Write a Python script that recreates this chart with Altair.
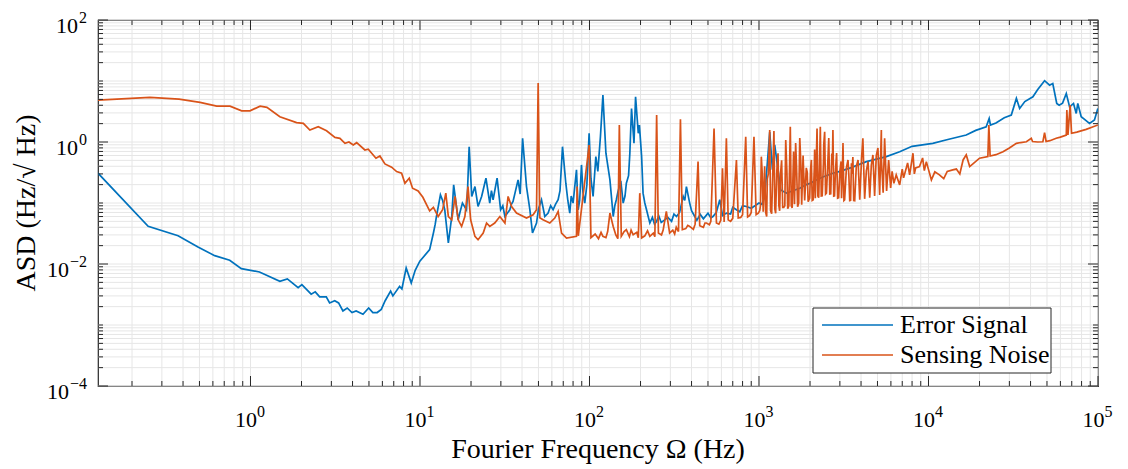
import altair as alt
import pandas as pd

# ---------------- data ----------------
series_names = ["Error Signal", "Sensing Noise"]

err_freq = [0.126, 0.249, 0.374, 0.490, 0.615, 0.754, 0.883, 1.13, 1.49, 1.65,
            1.91, 2.01, 2.28, 2.41, 2.56, 2.80, 2.93, 3.14, 3.31, 3.51,
            3.72, 3.97, 4.20, 4.61, 4.98, 5.27, 5.59, 5.91, 6.23, 6.71,
            6.92, 7.58, 7.82, 8.29, 8.88, 9.37, 9.98, 11.4, 12.0, 12.5,
            13.2, 14.0, 14.7, 15.4, 15.8, 16.8, 17.8, 18.8, 19.5, 20.2,
            21.1, 22.0, 23.1, 24.5, 25.8, 27.0, 28.5, 29.9, 31.7, 33.9,
            35.4, 37.9, 40.3, 42.5, 44.5, 46.1, 48.7, 52.1, 54.5, 57.0,
            61.0, 65.3, 69.3, 72.5, 76.5, 80.0, 83.8, 85.7, 89.7, 93.8,
            99.5, 105, 109, 116, 120, 125, 132, 138, 144, 150,
            158, 165, 173, 177, 183, 187, 194, 203, 207, 217,
            227, 249, 278, 326, 357, 373, 390, 418, 535, 587,
            642, 736, 843, 966, 1081, 1157, 1200, 1238, 1295, 1343,
            1452, 1740, 2180, 2730, 4300, 5640, 6760, 10600, 16700, 21900,
            22800, 23200, 30800, 33000, 34500, 41300, 48400, 51800, 54100, 57100,
            61800, 65000, 68000, 71700, 74400, 76000, 79600, 89100, 95300, 99800]
err_asd = [0.308, 0.0416, 0.0291, 0.0190, 0.0137, 0.0115, 0.0084, 0.0074, 0.0052, 0.0057,
           0.0041, 0.0046, 0.0032, 0.0035, 0.0029, 0.0029, 0.0023, 0.0025, 0.0023, 0.0017,
           0.0019, 0.0016, 0.0017, 0.0015, 0.0019, 0.0016, 0.0016, 0.0018, 0.0025, 0.0036,
           0.0030, 0.0043, 0.0039, 0.0086, 0.0049, 0.0079, 0.0111, 0.0172, 0.0322, 0.060,
           0.136, 0.0774, 0.0221, 0.060, 0.198, 0.0531, 0.0996, 0.0774, 0.838, 0.128,
           0.186, 0.0877, 0.128, 0.255, 0.0996, 0.113, 0.255, 0.0774, 0.060, 0.0774,
           0.106, 0.239, 1.15, 0.186, 0.0774, 0.0322, 0.047, 0.113, 0.060, 0.0684,
           0.0774, 0.113, 0.838, 0.211, 0.0684, 0.0996, 0.349, 0.0774, 0.421, 0.0996,
           1.39, 0.128, 0.575, 1.22, 5.86, 0.654, 0.239, 0.060, 0.113, 0.186,
           0.0996, 0.211, 0.654, 3.55, 0.952, 5.50, 1.39, 0.575, 0.145, 0.0774,
           0.047, 0.050, 0.053, 0.060, 0.128, 0.186, 0.0996, 0.060, 0.060, 0.113,
           0.0684, 0.0774, 0.0877, 0.0935, 0.128, 1.45, 0.35, 0.90, 0.35, 0.164,
           0.145, 0.175, 0.239, 0.308, 0.477, 0.575, 0.694, 0.952, 1.30, 1.78,
           2.44, 1.90, 2.76, 5.18, 3.55, 5.50, 10.1, 8.54, 9.10, 4.29,
           4.34, 6.25, 3.77, 4.29, 2.94, 4.29, 2.59, 2.02, 2.29, 3.55]
err_freq_band = [12.3, 13.6, 17.2, 19.0, 26.4, 30.8, 34.6, 39.0, 50.0, 59.0,
                 63.0, 67.0, 74.5, 78.0, 87.5, 91.5, 96.5, 102, 112, 141,
                 147, 153, 162, 170, 197, 212, 222, 235, 242, 256,
                 265, 290, 305, 315, 340, 365, 400, 430, 450, 470,
                 500, 520, 560, 610, 680, 700, 770, 800, 900, 1000, 1040,
                 1500, 1600, 1900, 2000, 2400, 3000, 3500, 5000, 8000, 13000, 19000,
                 25000, 28000, 37000, 44000, 59000, 84000]
err_asd_band = [0.045, 0.11, 0.07, 0.12, 0.16, 0.09, 0.095, 0.14, 0.08, 0.09,
                0.095, 0.16, 0.11, 0.13, 0.11, 0.15, 0.2, 0.25, 0.33, 0.09,
                0.15, 0.23, 0.13, 0.28, 1.9, 0.1, 0.06, 0.058, 0.045, 0.062,
                0.048, 0.058, 0.05, 0.066, 0.07, 0.11, 0.075, 0.052, 0.065, 0.055,
                0.068, 0.057, 0.07, 0.062, 0.066, 0.085, 0.072, 0.09, 0.082, 0.1, 0.095,
                0.15, 0.16, 0.2, 0.21, 0.27, 0.33, 0.38, 0.53, 0.85, 1.1, 1.55,
                2.05, 2.5, 4.6, 7.2, 4.0, 2.3]

sn_freq = [0.126, 0.255, 0.379, 0.504, 0.632, 0.757, 0.887, 0.993, 1.14, 1.25,
           1.49, 1.87, 2.05, 2.24, 2.51, 2.81, 3.15, 3.37, 3.61, 3.81,
           4.04, 4.23, 4.73, 4.95, 5.50, 5.80, 6.21, 6.80, 7.28, 7.79,
           8.15, 8.64, 9.04, 9.75, 10.4, 11.4, 12.0, 12.8, 13.6, 14.2,
           14.7, 15.4, 16.1, 16.8, 17.6, 18.4, 19.2, 19.9, 21.1, 22.0,
           23.6, 24.7, 25.8, 27.6, 29.6, 31.7, 33.1, 34.7, 37.1, 42.5,
           46.5, 48.7, 49.8, 50.9, 53.2, 58.3, 62.4, 65.3, 68.4, 73.2,
           83.8, 84.5, 85.9, 99.5, 102, 120, 132, 138, 150, 154,
           165, 181, 198, 203, 227, 249, 255, 284, 297, 344,
           353, 390, 437, 447, 490, 543, 561, 609, 623, 642,
           658, 736, 754, 835, 857, 934, 962, 1032, 1059, 1110,
           1157, 1188, 1225, 1254, 1295, 1324, 1438, 1477, 1530, 1570,
           1645, 1690, 1740, 1786, 1901, 1950, 2037, 2089, 2200, 2250,
           2300, 2360, 2440, 2500, 2580, 2650, 2730, 2790, 2870, 2950,
           3130, 3200, 3350, 3430, 3580, 3670, 3840, 3930, 4100, 4200,
           4400, 4500, 4700, 4810, 5030, 5150, 5270, 5400, 5510, 5660,
           5820, 5980, 6450, 6760, 7130, 7530, 7740, 8100, 8400, 8850,
           9230, 9710, 10400, 10900, 11600, 13900, 16000, 16700, 17500, 20000,
           22400, 22700, 23100, 27500, 33000, 37800, 40400, 41100, 47300, 48400,
           49400, 56700, 65000, 65500, 66500, 68500, 69800, 85100, 99800]
sn_asd = [4.86, 5.37, 5.04, 4.45, 3.87, 3.87, 3.25, 3.25, 3.87, 3.69,
          2.59, 2.08, 2.02, 1.57, 1.78, 1.53, 1.19, 1.15, 0.952, 1.0,
          0.893, 0.974, 0.740, 0.760, 0.542, 0.590, 0.437, 0.386, 0.327, 0.308,
          0.211, 0.255, 0.175, 0.158, 0.124, 0.0746, 0.0851, 0.060, 0.0774, 0.145,
          0.060, 0.053, 0.128, 0.053, 0.0413, 0.060, 0.186, 0.053, 0.0284, 0.0250,
          0.0322, 0.047, 0.0413, 0.047, 0.060, 0.047, 0.128, 0.0877, 0.0684, 0.0567,
          0.0642, 0.0774, 9.31, 0.0573, 0.053, 0.047, 0.0567, 0.0726, 0.0322, 0.0267,
          0.0284, 0.186, 0.029, 0.893, 0.027, 0.0284, 0.0684, 0.0413, 1.90, 0.0284,
          0.0365, 0.0302, 0.145, 0.0267, 0.0284, 2.76, 0.0322, 0.0726, 0.0322, 2.35,
          0.0365, 0.0413, 0.477, 0.0424, 0.047, 1.67, 0.047, 0.372, 0.049, 1.15,
          0.053, 0.508, 0.0567, 1.22, 0.059, 1.22, 0.0642, 0.575, 0.0718, 0.060,
          1.57, 0.0666, 1.51, 0.068, 0.654, 0.0746, 1.08, 0.0804, 1.78, 0.0835,
          0.964, 0.0867, 1.16, 0.0935, 0.376, 0.105, 0.508, 0.113, 1.67, 0.122,
          1.78, 0.131, 1.47, 0.145, 1.16, 0.141, 1.57, 0.131, 0.661, 0.122,
          0.964, 0.113, 0.508, 0.109, 0.569, 0.109, 0.508, 0.113, 1.15, 0.117,
          0.477, 0.122, 0.614, 0.131, 0.798, 0.136, 1.57, 0.147, 1.15, 0.158,
          0.508, 0.177, 0.289, 0.198, 0.258, 0.454, 0.289, 0.654, 0.376, 0.395,
          0.548, 0.477, 0.239, 0.324, 0.289, 0.349, 0.508, 0.614, 0.395, 0.542,
          0.575, 1.90, 0.590, 0.694, 0.952, 1.01, 1.15, 1.02, 1.01, 1.42,
          1.02, 1.15, 1.30, 3.33, 1.30, 4.02, 1.39, 1.61, 1.90]
# extra points read from the noisy floor / dense harmonic band
sn_freq_band = [108, 113, 117, 125, 128, 143, 147, 160, 172, 176,
                190, 194, 212, 220, 238, 243, 266, 272, 310, 318,
                325, 335, 370, 380, 410, 420, 470, 480, 510, 520,
                580, 595, 680, 700, 780, 800, 880, 900, 990, 1010,
                1080, 1135, 1210, 1275, 1360, 1400, 1600, 1820, 2130, 2410,
                2690, 3050, 3280, 3510, 3750, 4030, 4300, 4600, 4920, 5280,
                6100, 6250, 7000, 8250, 9450, 12300, 12900, 14600, 15300, 18500,
                25000, 30000, 35000, 44000, 52000, 60000, 75000, 92000,
                1020, 1045, 1095, 1120, 1170, 1240, 1310, 1340, 1380, 1420,
                1460, 1500, 1550, 1620, 1665, 1715, 1765, 1860, 1925, 1990,
                2015, 2060, 2120, 2150, 2175, 2225, 2275, 2330, 2400, 2470,
                2540, 2615, 2710, 2760, 2830, 2910, 3000, 3070, 3100, 3170,
                3390, 3470, 3530, 3620]
sn_asd_band = [0.031, 0.026, 0.033, 0.027, 0.034, 0.030, 0.026, 0.034, 0.028, 0.036,
               0.033, 0.027, 0.029, 0.035, 0.032, 0.028, 0.030, 0.036, 0.036, 0.031,
               0.040, 0.034, 0.038, 0.043, 0.037, 0.045, 0.040, 0.047, 0.044, 0.050,
               0.045, 0.052, 0.050, 0.056, 0.058, 0.064, 0.062, 0.070, 0.068, 0.075,
               0.40, 0.30, 0.45, 0.35, 0.50, 0.085, 0.70, 0.60, 0.75, 0.90,
               0.65, 0.48, 0.38, 0.45, 0.40, 0.55, 0.34, 0.42, 0.60, 0.50,
               0.33, 0.21, 0.36, 0.30, 0.34, 0.25, 0.33, 0.36, 0.30, 0.45,
               0.62, 0.80, 0.98, 1.0, 1.05, 1.20, 1.45, 1.75,
               0.09, 0.30, 0.07, 0.25, 0.075, 0.08, 0.09, 0.30, 0.085, 0.09,
               0.35, 0.09, 0.09, 0.095, 0.40, 0.10, 0.45, 0.11, 0.32, 0.12,
               0.35, 0.11, 0.38, 0.12, 0.42, 0.13, 0.40, 0.13, 0.45, 0.14,
               0.38, 0.14, 0.42, 0.13, 0.36, 0.12, 0.33, 0.12, 0.30, 0.11,
               0.28, 0.11, 0.30, 0.11]

x_tick_exps = [0, 1, 2, 3, 4, 5]
y_tick_exps = [-4, -2, 0, 2]
x_domain = [0.126, 1e5]
y_domain = [1e-4, 1e2]
x_title = "Fourier Frequency Ω (Hz)"
y_title = "ASD (Hz/√ Hz)"

# ---------------- styling ----------------
W, H = 1000, 366
FONT = "Liberation Serif"
BLUE = "#0072BD"
ORANGE = "#D95319"
AX = "#262626"
GRID = "#e6e6e6"


def decade_ticks(lo, hi):
    vals = []
    for e in range(-6, 7):
        for m in range(1, 10):
            v = m * 10.0 ** e
            if lo * 0.999 <= v <= hi * 1.001:
                vals.append(v)
    return vals


def is_major(v, majors):
    return any(abs(v - m) <= 1e-6 * m for m in majors)


x_major = [10.0 ** e for e in x_tick_exps]
y_major = [10.0 ** e for e in y_tick_exps]
x_all = decade_ticks(*x_domain)
y_all = decade_ticks(*y_domain)
x_minor = [v for v in x_all if not is_major(v, x_major)]
y_minor = [v for v in y_all if not is_major(v, y_major)]

xs = alt.Scale(type="log", domain=x_domain, nice=False)
ys = alt.Scale(type="log", domain=y_domain, nice=False)

err_df = pd.DataFrame({"f": err_freq + err_freq_band, "asd": err_asd + err_asd_band})
sn_df = pd.DataFrame({"f": sn_freq + sn_freq_band, "asd": sn_asd + sn_asd_band})


def xrules(vals, y0, y1, color=AX, width=1.0):
    return alt.Chart(pd.DataFrame({"v": vals})).mark_rule(color=color, strokeWidth=width).encode(
        x=alt.X("v:Q", scale=xs, axis=None), y=alt.value(y0), y2=alt.value(y1))


def yrules(vals, x0, x1, color=AX, width=1.0):
    return alt.Chart(pd.DataFrame({"v": vals})).mark_rule(color=color, strokeWidth=width).encode(
        y=alt.Y("v:Q", scale=ys, axis=None), x=alt.value(x0), x2=alt.value(x1))


layers = []
# grid (major + minor, all solid light grey)
layers += [xrules(x_all, 0, H, GRID, 1.0), yrules(y_all, 0, W, GRID, 1.0)]

# data lines
layers.append(alt.Chart(err_df).mark_line(color=BLUE, strokeWidth=1.7, clip=True).encode(
    x=alt.X("f:Q", scale=xs, axis=None), y=alt.Y("asd:Q", scale=ys, axis=None)))
layers.append(alt.Chart(sn_df).mark_line(color=ORANGE, strokeWidth=1.7, clip=True).encode(
    x=alt.X("f:Q", scale=xs, axis=None), y=alt.Y("asd:Q", scale=ys, axis=None)))

# inward ticks on all four sides
layers += [
    xrules(x_minor, H, H - 5), xrules(x_major, H, H - 10),
    xrules(x_minor, 0, 5), xrules(x_major, 0, 10),
    yrules(y_minor, 0, 5), yrules(y_major, 0, 10),
    yrules(y_minor, W, W - 5), yrules(y_major, W, W - 10),
]

# tick labels 10^n
xlab = pd.DataFrame({"v": x_major, "e": [str(e) for e in x_tick_exps]})
layers.append(alt.Chart(xlab).mark_text(text="10", align="right", baseline="alphabetic",
                                        font=FONT, fontSize=22, dx=6.5, color="black").encode(
    x=alt.X("v:Q", scale=xs, axis=None), y=alt.value(H + 41)))
layers.append(alt.Chart(xlab).mark_text(align="left", baseline="alphabetic",
                                        font=FONT, fontSize=16, dx=6.5, color="black").encode(
    x=alt.X("v:Q", scale=xs, axis=None), y=alt.value(H + 31), text="e:N"))

ylab = pd.DataFrame({"v": y_major,
                     "e": [str(e) if e >= 0 else "\u2212" + str(-e) for e in y_tick_exps]})
layers.append(alt.Chart(ylab).mark_text(align="right", baseline="alphabetic",
                                        font=FONT, fontSize=16, dy=3, color="black").encode(
    y=alt.Y("v:Q", scale=ys, axis=None), x=alt.value(-11), text="e:N"))
layers.append(alt.Chart(ylab).transform_filter("datum.v >= 1").mark_text(
    text="10", align="right", baseline="alphabetic", font=FONT, fontSize=22, dy=13,
    color="black").encode(y=alt.Y("v:Q", scale=ys, axis=None), x=alt.value(-20)))
layers.append(alt.Chart(ylab).transform_filter("datum.v < 1").mark_text(
    text="10", align="right", baseline="alphabetic", font=FONT, fontSize=22, dy=13,
    color="black").encode(y=alt.Y("v:Q", scale=ys, axis=None), x=alt.value(-29)))

one = pd.DataFrame({"k": [0]})
# axis titles
layers.append(alt.Chart(one).mark_text(text=x_title, align="center", baseline="alphabetic",
                                       font=FONT, fontSize=28, color="black").encode(
    x=alt.value(W / 2), y=alt.value(H + 72)))
layers.append(alt.Chart(one).mark_text(text=y_title, align="center", baseline="middle",
                                       angle=270, font=FONT, fontSize=28, color="black").encode(
    x=alt.value(-71), y=alt.value(H / 2)))

# legend (box, line samples, labels)
layers.append(alt.Chart(one).mark_rect(fill="white", stroke=AX, strokeWidth=1).encode(
    x=alt.value(715), x2=alt.value(953), y=alt.value(288), y2=alt.value(353)))
for name, col, yy in zip(series_names, [BLUE, ORANGE], [305, 335]):
    layers.append(alt.Chart(one).mark_rule(color=col, strokeWidth=1.7).encode(
        x=alt.value(724), x2=alt.value(795), y=alt.value(yy)))
    layers.append(alt.Chart(one).mark_text(text=name, align="left", baseline="alphabetic",
                                           font=FONT, fontSize=26, color="black").encode(
        x=alt.value(802), y=alt.value(yy + 8)))

chart = alt.layer(*layers).properties(
    width=W, height=H,
    padding={"left": 98, "top": 20, "right": 30, "bottom": 83},
    autosize=alt.AutoSizeParams(type="none"),
    background="white",
).configure_view(stroke=AX, strokeWidth=1.2)

chart.save("out.html", embed_options={"renderer": "svg", "actions": False})
